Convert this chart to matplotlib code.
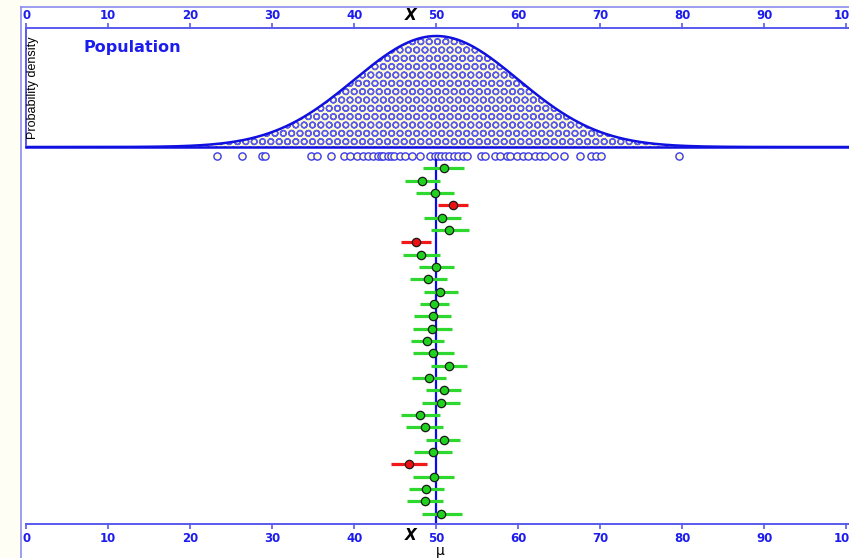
"""
Dance of the confidence intervals: population curve, one sample, and 29 CIs.
"""
import matplotlib
matplotlib.use("Agg")
import matplotlib.pyplot as plt
from matplotlib.patches import Rectangle
from matplotlib.lines import Line2D
import numpy as np

# population
pop_mean = 50
pop_sd = 10

# one sample drawn from the population (the row of open circles)
sample_values = [23.3, 26.3, 28.7, 29.1, 34.7, 35.5, 37.1, 38.7, 39.5, 40.3,
                 41.1, 41.7, 42.3, 42.9, 43.2, 43.5, 44.1, 44.5, 44.8, 45.6,
                 46.2, 47.0, 48.0, 49.2, 49.8, 50.2, 50.6, 51.0, 51.5, 52.1,
                 52.7, 53.2, 53.7, 55.5, 55.9, 57.2, 57.8, 58.6, 59.0, 59.8,
                 60.6, 61.2, 62.0, 62.6, 63.3, 64.3, 65.6, 67.5, 68.9, 69.5,
                 70.1, 79.6]

# sample means and 95% CI limits, top to bottom
ci_mean = [50.9, 48.3, 49.8, 52.0, 50.7, 51.6, 47.5, 48.1, 50.0, 49.0,
           50.5, 49.7, 49.6, 49.5, 48.9, 49.6, 51.6, 49.1, 50.9, 50.6,
           48.0, 48.6, 50.9, 49.6, 46.7, 49.7, 48.8, 48.6, 50.6]
ci_low = [48.4, 46.2, 47.5, 50.2, 48.5, 49.4, 45.7, 45.9, 47.9, 46.8,
          48.5, 48.0, 47.3, 47.1, 46.9, 47.1, 49.4, 47.0, 48.8, 48.2,
          45.7, 46.3, 48.8, 47.3, 44.5, 47.1, 46.7, 46.4, 48.2]
ci_high = [53.4, 50.4, 52.2, 53.9, 53.0, 54.0, 49.4, 50.4, 52.2, 51.3,
           52.6, 51.5, 51.8, 51.9, 50.9, 52.2, 53.8, 51.2, 53.0, 52.9,
           50.5, 50.8, 52.9, 51.9, 48.9, 52.2, 50.9, 50.8, 53.1]

xticks = [0, 10, 20, 30, 40, 50, 60, 70, 80, 90, 100]

AXIS_BLUE = "#5a5aee"
LABEL_BLUE = "#1c1cee"
LINE_BLUE = "#1010e0"

W, H = 849, 558
fig = plt.figure(figsize=(W / 100, H / 100), dpi=100, facecolor="#fffef4")

# white panel with thin light-blue frame on top/left
fig.patches.append(Rectangle((20.5 / W, 0), 1, 1 - 7 / H, transform=fig.transFigure,
                             facecolor="white", edgecolor="none", zorder=-5))
fig.lines.append(Line2D([20.5 / W, 20.5 / W], [0, 1 - 7 / H], transform=fig.transFigure,
                        color="#8c8cf0", lw=1.2))
fig.lines.append(Line2D([20.5 / W, 1], [1 - 7 / H, 1 - 7 / H], transform=fig.transFigure,
                        color="#8c8cf0", lw=1.2))

left = 26.3 / W
xmax = (W - 26.3) / 8.2
pop_ax = fig.add_axes([left, 1 - 147 / H, 1 - left, (147 - 28) / H])
ci_ax = fig.add_axes([left, 1 - 524 / H, 1 - left, (524 - 147) / H])
for ax in (pop_ax, ci_ax):
    ax.set_xlim(0, xmax)
    ax.set_facecolor("none")
    ax.set_xticks(xticks)
    ax.set_yticks([])

# --- population panel ---
x = np.linspace(0, xmax, 600)
pdf = np.exp(-0.5 * ((x - pop_mean) / pop_sd) ** 2) / (pop_sd * np.sqrt(2 * np.pi))
peak = 1 / (pop_sd * np.sqrt(2 * np.pi))
pop_ax.set_ylim(0, peak * 119 / 111)
plt.rcParams["hatch.linewidth"] = 1.0
# population members shown as packed circles
pop_ax.fill_between(x, 0, pdf, facecolor="#fffbd2", edgecolor="#5c5cec",
                    hatch="OO", lw=0)
pop_ax.plot(x, pdf, color=LINE_BLUE, lw=1.8)
pop_ax.spines["right"].set_visible(False)
pop_ax.spines["top"].set_color(AXIS_BLUE)
pop_ax.spines["top"].set_linewidth(1.4)
pop_ax.spines["left"].set_color(AXIS_BLUE)
pop_ax.spines["left"].set_linewidth(1.4)
pop_ax.spines["bottom"].set_color(LINE_BLUE)
pop_ax.spines["bottom"].set_linewidth(1.8)
pop_ax.xaxis.tick_top()
pop_ax.tick_params(axis="x", direction="out", length=3.5, width=1.2, color=AXIS_BLUE,
                   labelcolor=LABEL_BLUE, labelsize=8.5, pad=0.5)
for lab in pop_ax.get_xticklabels():
    lab.set_fontweight("bold")
pop_ax.text(7, peak * 0.9, "Population", color=LABEL_BLUE, fontsize=11.5,
            fontweight="bold", va="center", ha="left")
pop_ax.text(0.85, 0.5, "Probability density", transform=pop_ax.get_xaxis_transform(),
            rotation=90, va="center", ha="center", fontsize=9,
            family="Liberation Sans", color="black")

# --- sample and CIs panel ---
rows = np.arange(1, len(ci_mean) + 1)
ci_ax.set_ylim(1 + (524 - 168.3) / 12.333, 1 + (147 - 168.3) / 12.333)
ci_ax.plot(sample_values, np.zeros(len(sample_values)), "o", ms=5.2, mfc="#fffbd2",
           mec="#3a3aee", mew=1.0, ls="none")
ci_ax.plot([pop_mean, pop_mean], [0.33, 29.9], color="#0a0aee", lw=1.6, zorder=2)

lo = np.array(ci_low)
hi = np.array(ci_high)
hit = (lo <= pop_mean) & (hi >= pop_mean)
for r, m, a, b, ok in zip(rows, ci_mean, lo, hi, hit):
    line_c = "#2ed82e" if ok else "#f01818"
    dot_c = "#1ed21e" if ok else "#ee1010"
    ci_ax.plot([a, b], [r, r], color=line_c, lw=2.3, solid_capstyle="butt", zorder=3)
    ci_ax.plot(m, r, "o", ms=6, mfc=dot_c, mec="#1a1a1a", mew=0.9, zorder=4)

for side in ("left", "right", "top"):
    ci_ax.spines[side].set_visible(False)
ci_ax.spines["bottom"].set_color(AXIS_BLUE)
ci_ax.spines["bottom"].set_linewidth(1.4)
ci_ax.tick_params(axis="x", direction="out", length=3.5, width=1.2, color=AXIS_BLUE,
                  labelcolor=LABEL_BLUE, labelsize=8.5, pad=2.0)
for lab in ci_ax.get_xticklabels():
    lab.set_fontweight("bold")

# axis symbols
fig.text(411 / W, 1 - 16 / H, "X", fontsize=11, fontweight="bold", style="italic",
         ha="center", va="center")
fig.text(411 / W, 1 - 535 / H, "X", fontsize=11, fontweight="bold", style="italic",
         ha="center", va="center")
fig.text(440 / W, 1 - 551 / H, "\u03bc", fontsize=10, ha="center", va="center")

fig.savefig("out.png", dpi=100, facecolor=fig.get_facecolor())
plt.close(fig)
